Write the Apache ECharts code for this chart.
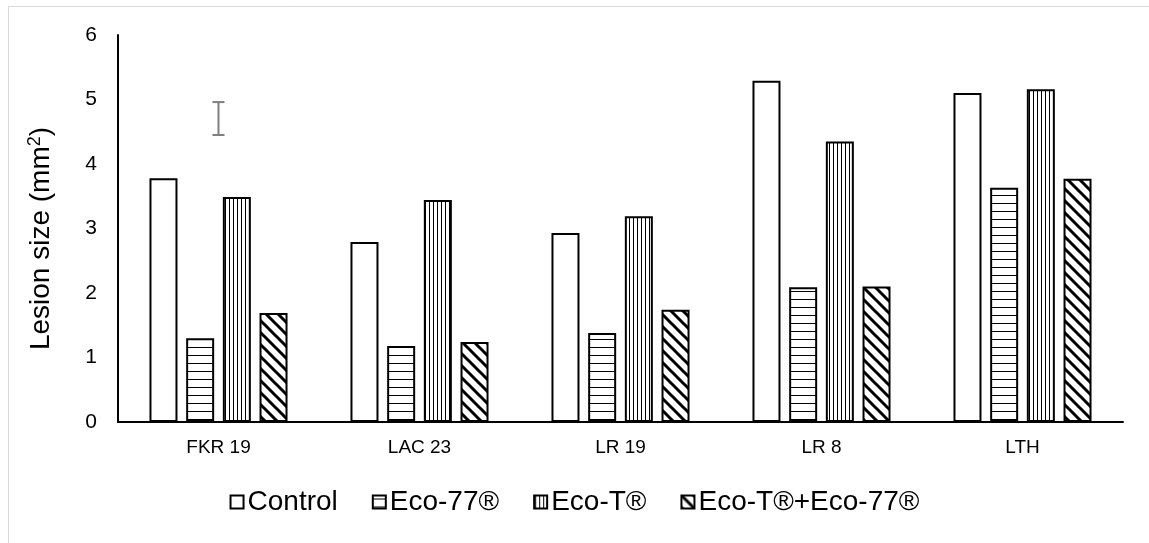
<!DOCTYPE html>
<html>
<head>
<meta charset="utf-8">
<script src="https://cdn.jsdelivr.net/npm/echarts@6/dist/echarts.min.js"></script>
<style>
html,body{margin:0;padding:0;background:#fff;}
#chart{width:1149px;height:543px;}
</style>
</head>
<body>
<div id="chart"></div>
<script>
// ---- data ----
const categories = ['FKR 19', 'LAC 23', 'LR 19', 'LR 8', 'LTH'];
const seriesNames = ['Control', 'Eco-77®', 'Eco-T®', 'Eco-T®+Eco-77®'];
const controlValues = [3.78, 2.79, 2.93, 5.29, 5.10];
const eco77Values = [1.30, 1.18, 1.38, 2.09, 3.63];
const ecoTValues = [3.49, 3.44, 3.19, 4.35, 5.16];
const comboValues = [1.69, 1.24, 1.74, 2.10, 3.77];
// single error bar drawn in the reference: [category, low, high]
const errorBars = [['FKR 19', 4.45, 4.96]];
const yTicks = [0, 1, 2, 3, 4, 5, 6];

// ---- patterns ----
function makeCanvas(w, h) {
  const c = document.createElement('canvas');
  c.width = w; c.height = h;
  const ctx = c.getContext('2d');
  ctx.fillStyle = '#fff';
  ctx.fillRect(0, 0, w, h);
  return [c, ctx];
}
function hPattern() {
  const [c, ctx] = makeCanvas(8, 8);
  ctx.fillStyle = '#000';
  ctx.fillRect(0, 3, 8, 1);
  return { image: c, repeat: 'repeat' };
}
function vPattern() {
  const [c, ctx] = makeCanvas(4, 4);
  ctx.fillStyle = '#000';
  ctx.fillRect(1, 0, 1, 4);
  return { image: c, repeat: 'repeat' };
}
function dPattern() {
  const s = 12;
  const [c, ctx] = makeCanvas(s, s);
  ctx.strokeStyle = '#000';
  ctx.lineWidth = 3;
  ctx.beginPath();
  for (const o of [-s, 0, s]) {
    ctx.moveTo(o - 2, -2);
    ctx.lineTo(o + s + 2, s + 2);
  }
  ctx.stroke();
  return { image: c, repeat: 'repeat' };
}

const fills = ['#ffffff', hPattern(), vPattern(), dPattern()];
const valueSets = [controlValues, eco77Values, ecoTValues, comboValues];
const FONT = 'Liberation Sans, Arial, sans-serif';

const barSeries = seriesNames.map((name, i) => ({
  name: name,
  type: 'bar',
  data: valueSets[i],
  barWidth: 28,
  barGap: '31%',
  itemStyle: { color: fills[i], borderColor: '#000', borderWidth: 2 },
  emphasis: { disabled: true },
  animation: false
}));

const errorSeries = {
  type: 'custom',
  name: 'err',
  data: errorBars,
  silent: true,
  animation: false,
  z: 5,
  renderItem: function (params, api) {
    const lo = api.coord([api.value(0), api.value(1)]);
    const hi = api.coord([api.value(0), api.value(2)]);
    const hw = 6;
    const st = { stroke: '#7f7f7f', lineWidth: 2 };
    return {
      type: 'group',
      children: [
        { type: 'line', shape: { x1: lo[0], y1: lo[1], x2: hi[0], y2: hi[1] }, style: st },
        { type: 'line', shape: { x1: lo[0] - hw, y1: lo[1], x2: lo[0] + hw, y2: lo[1] }, style: st },
        { type: 'line', shape: { x1: hi[0] - hw, y1: hi[1], x2: hi[0] + hw, y2: hi[1] }, style: st }
      ]
    };
  },
  encode: { x: 0, y: [1, 2] }
};

const chart = echarts.init(document.getElementById('chart'), null, { renderer: 'canvas' });
chart.setOption({
  backgroundColor: '#fff',
  animation: false,
  textStyle: { fontFamily: FONT },
  graphic: [{
    type: 'rect',
    shape: { x: 8.5, y: 6.5, width: 1200, height: 600 },
    style: { fill: 'none', stroke: '#d9d9d9', lineWidth: 1 },
    silent: true
  }],
  grid: { left: 118, right: 26, top: 35, bottom: 121, containLabel: false },
  legend: {
    data: seriesNames,
    bottom: 22,
    left: 'center',
    icon: 'rect',
    itemWidth: 13,
    itemHeight: 13,
    itemGap: 34,
    selectedMode: false,
    textStyle: { fontSize: 28, color: '#000', fontFamily: FONT, padding: [0, 0, 0, -1] }
  },
  xAxis: {
    type: 'category',
    data: categories,
    axisLine: { lineStyle: { color: '#000', width: 2 } },
    axisTick: { show: false },
    axisLabel: { fontSize: 19, color: '#000', margin: 16, fontFamily: FONT },
    splitLine: { show: false }
  },
  yAxis: {
    type: 'value',
    min: yTicks[0],
    max: yTicks[yTicks.length - 1],
    interval: 1,
    axisLine: { show: true, lineStyle: { color: '#000', width: 2 } },
    axisTick: { show: false },
    splitLine: { show: false },
    axisLabel: { fontSize: 21, color: '#000', margin: 21, fontFamily: FONT },
    name: 'Lesion size (mm{sup|2})',
    nameLocation: 'middle',
    nameRotate: 90,
    nameGap: 62,
    nameTextStyle: {
      fontSize: 28, color: '#000', fontFamily: FONT, lineHeight: 30,
      padding: [0, 20, 0, 0],
      rich: { sup: { fontSize: 18, verticalAlign: 'top', lineHeight: 18, color: '#000', fontFamily: FONT } }
    }
  },
  series: barSeries.concat([errorSeries])
});
</script>
</body>
</html>
